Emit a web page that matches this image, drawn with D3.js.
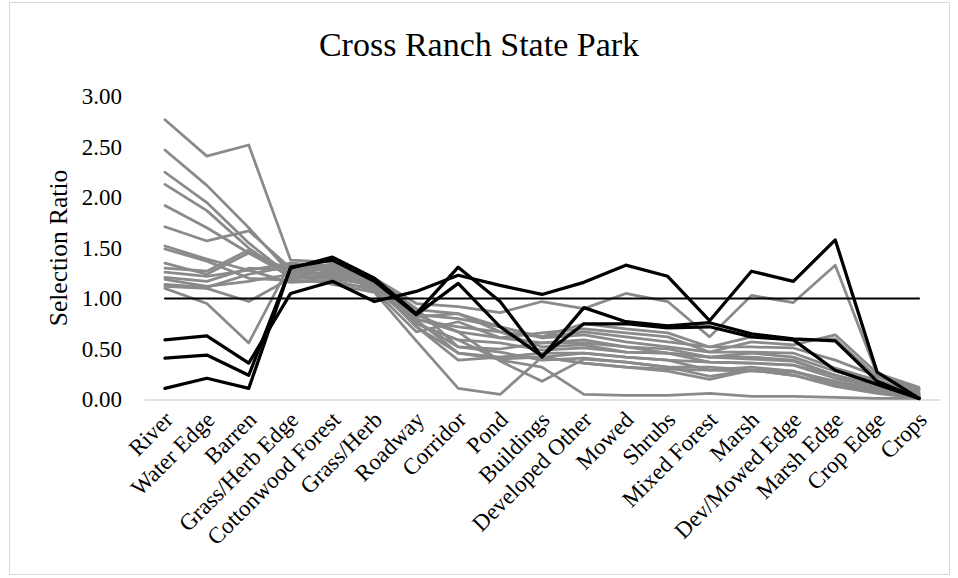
<!DOCTYPE html>
<html>
<head>
<meta charset="utf-8">
<script src="https://cdn.jsdelivr.net/npm/d3@7/dist/d3.min.js"></script>
<style>
  html, body { margin: 0; padding: 0; background: #fff; }
  svg { display: block; font-family: "Liberation Serif", "Times New Roman", serif; }
</style>
</head>
<body>
<svg id="chart" width="958" height="578"></svg>
<script>
// Habitat categories along the x axis
const categories = ["River", "Water Edge", "Barren", "Grass/Herb Edge", "Cottonwood Forest",
  "Grass/Herb", "Roadway", "Corridor", "Pond", "Buildings", "Developed Other", "Mowed",
  "Shrubs", "Mixed Forest", "Marsh", "Dev/Mowed Edge", "Marsh Edge", "Crop Edge", "Crops"];

const yTicks = [0, 0.5, 1, 1.5, 2, 2.5, 3];

// Reference value: selection ratio of 1 (use equals availability)
const neutral = categories.map(() => 1.0);

// Selection ratios, one row per animal (gray group)
const grayA = [2.77, 2.41, 2.52, 1.38, 1.36, 1.18, 0.72, 0.46, 0.40, 0.42, 0.36, 0.32, 0.30, 0.29, 0.28, 0.27, 0.18, 0.10, 0.03];
const grayB = [2.47, 2.12, 1.70, 1.25, 1.30, 1.20, 0.80, 0.67, 0.61, 0.56, 0.59, 0.52, 0.50, 0.42, 0.42, 0.39, 0.24, 0.14, 0.05];
const grayC = [2.25, 1.95, 1.55, 1.22, 1.26, 1.15, 0.84, 0.80, 0.72, 0.61, 0.64, 0.57, 0.52, 0.47, 0.47, 0.46, 0.31, 0.19, 0.07];
const grayD = [2.13, 1.87, 1.50, 1.20, 1.22, 1.17, 0.75, 0.59, 0.56, 0.49, 0.51, 0.47, 0.46, 0.37, 0.36, 0.34, 0.21, 0.12, 0.03];
const grayE = [1.92, 1.70, 1.45, 1.28, 1.24, 1.12, 0.79, 0.72, 0.67, 0.62, 0.67, 0.62, 0.57, 0.52, 0.52, 0.51, 0.39, 0.23, 0.09];
const grayF = [1.71, 1.57, 1.67, 1.30, 1.28, 1.18, 0.89, 0.85, 0.67, 0.52, 0.54, 0.47, 0.46, 0.42, 0.40, 0.38, 0.24, 0.14, 0.05];
const grayG = [1.52, 1.39, 1.28, 1.35, 1.32, 1.20, 0.95, 0.92, 0.86, 0.97, 0.90, 1.05, 0.97, 0.62, 1.03, 0.96, 1.33, 0.25, 0.10];
const grayH = [1.49, 1.37, 1.20, 1.18, 1.16, 1.10, 0.77, 0.52, 0.47, 0.39, 0.41, 0.37, 0.32, 0.32, 0.29, 0.28, 0.18, 0.08, 0.02];
const grayI = [1.35, 1.24, 1.45, 1.22, 1.20, 1.13, 0.72, 0.39, 0.42, 0.46, 0.46, 0.42, 0.39, 0.37, 0.36, 0.34, 0.24, 0.12, 0.04];
const grayJ = [1.26, 1.22, 1.28, 1.16, 1.18, 1.08, 0.67, 0.77, 0.61, 0.66, 0.70, 0.66, 0.62, 0.47, 0.57, 0.54, 0.64, 0.26, 0.12];
const grayK = [1.19, 1.12, 1.17, 1.24, 1.14, 1.06, 0.58, 0.11, 0.05, 0.42, 0.46, 0.42, 0.39, 0.29, 0.32, 0.28, 0.16, 0.08, 0.02];
const grayL = [1.12, 1.10, 0.97, 1.20, 1.20, 1.15, 0.84, 0.67, 0.38, 0.18, 0.40, 0.37, 0.32, 0.23, 0.29, 0.24, 0.13, 0.06, 0.01];
const grayM = [1.10, 0.95, 0.56, 1.35, 1.25, 1.10, 0.75, 0.59, 0.39, 0.32, 0.05, 0.04, 0.04, 0.06, 0.03, 0.03, 0.02, 0.01, 0.01];
const grayN = [1.30, 1.27, 1.48, 1.26, 1.22, 1.16, 0.82, 0.85, 0.72, 0.62, 0.75, 0.70, 0.66, 0.52, 0.62, 0.59, 0.60, 0.22, 0.10];
const grayO = [1.14, 1.11, 1.24, 1.32, 1.30, 1.18, 0.79, 0.46, 0.42, 0.42, 0.36, 0.32, 0.28, 0.20, 0.29, 0.24, 0.15, 0.08, 0.03];
const grayP = [1.21, 1.17, 1.30, 1.28, 1.34, 1.20, 0.90, 0.52, 0.50, 0.56, 0.56, 0.52, 0.46, 0.42, 0.46, 0.42, 0.28, 0.17, 0.06];

// Selection ratios, highlighted animals (black group)
const blackA = [0.59, 0.63, 0.36, 1.05, 1.17, 0.97, 1.07, 1.23, 1.13, 1.04, 1.16, 1.33, 1.22, 0.78, 1.27, 1.17, 1.58, 0.27, 0.01];
const blackB = [0.41, 0.44, 0.24, 1.30, 1.41, 1.20, 0.85, 1.31, 0.97, 0.42, 0.91, 0.77, 0.73, 0.76, 0.65, 0.60, 0.58, 0.18, 0.01];
const blackC = [0.11, 0.21, 0.11, 1.31, 1.38, 1.17, 0.84, 1.15, 0.72, 0.43, 0.75, 0.75, 0.71, 0.72, 0.62, 0.59, 0.29, 0.15, 0.01];

const graySeries = [grayA, grayB, grayC, grayD, grayE, grayF, grayG, grayH, grayI, grayJ,
  grayK, grayL, grayM, grayN, grayO, grayP];
const blackSeries = [blackA, blackB, blackC];

const svg = d3.select("#chart");

// chart frame
svg.append("rect")
  .attr("x", 9.5).attr("y", 2.5).attr("width", 940).attr("height", 572)
  .attr("fill", "#fff").attr("stroke", "#d9d9d9").attr("stroke-width", 1);

const x = d3.scalePoint().domain(categories).range([144, 940]).padding(0.5);
const y = d3.scaleLinear().domain([0, 3]).range([399.5, 96.5]);

// title
svg.append("text")
  .attr("x", 479).attr("y", 56)
  .attr("text-anchor", "middle")
  .attr("font-size", 34).attr("fill", "#000")
  .text("Cross Ranch State Park");

// y axis labels
const yAxis = d3.axisLeft(y).tickValues(yTicks).tickFormat(d3.format(".2f")).tickSize(0).tickPadding(0);
const yg = svg.append("g").attr("transform", "translate(122,0)").call(yAxis);
yg.select(".domain").remove();
yg.selectAll("text").attr("font-size", 23).attr("font-family", "Liberation Serif").attr("fill", "#000");

// y axis title
svg.append("text")
  .attr("transform", "translate(67,248) rotate(-90)")
  .attr("text-anchor", "middle")
  .attr("font-size", 25.5).attr("fill", "#000")
  .text("Selection Ratio");

// x axis line and rotated labels
const xAxis = d3.axisBottom(x).tickSize(0).tickPadding(0);
const xg = svg.append("g").attr("transform", `translate(0,${y(0)})`).call(xAxis);
xg.select(".domain").attr("stroke", "#d9d9d9").attr("stroke-width", 1.5);
xg.selectAll(".tick text")
  .attr("font-size", 23).attr("font-family", "Liberation Serif").attr("fill", "#000")
  .attr("text-anchor", "end")
  .attr("transform", "translate(3,16) rotate(-45)")
  .attr("dy", "0.35em").attr("y", 0).attr("x", 0);

const line = d3.line()
  .x((d, i) => x(categories[i]))
  .y(d => y(d));

const plot = svg.append("g").attr("fill", "none")
  .attr("stroke-linejoin", "round").attr("stroke-linecap", "round");

plot.selectAll("path.gray").data(graySeries).join("path")
  .attr("class", "gray")
  .attr("d", line)
  .attr("stroke", "#8a8a8a").attr("stroke-width", 2.75);

plot.append("path")
  .attr("d", line(neutral))
  .attr("stroke", "#000").attr("stroke-width", 2);

plot.selectAll("path.black").data(blackSeries).join("path")
  .attr("class", "black")
  .attr("d", line)
  .attr("stroke", "#000").attr("stroke-width", 3.25);
</script>
</body>
</html>
